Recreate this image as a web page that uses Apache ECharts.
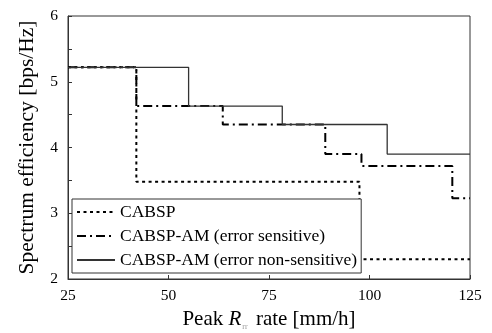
<!DOCTYPE html>
<html>
<head>
<meta charset="utf-8">
<script src="https://cdn.jsdelivr.net/npm/echarts@6/dist/echarts.min.js"></script>
<style>
html, body { margin: 0; padding: 0; background: #fff; }
#main { width: 492px; height: 333px; }
</style>
</head>
<body>
<div id="main"></div>
<script>
// step data
var cabspX = [25, 42, 97.5, 125];
var cabspY = [5.22, 3.48, 2.3, 2.3];
var sensX = [25, 42, 63.5, 89, 98, 120.6, 125];
var sensY = [5.22, 4.63, 4.35, 3.9, 3.72, 3.23, 3.23];
var nonX = [25, 55, 78.3, 104.4, 125];
var nonY = [5.22, 4.63, 4.35, 3.9, 3.9];
var names = ['CABSP', 'CABSP-AM (error sensitive)', 'CABSP-AM (error non-sensitive)'];

function pairs(xs, ys) {
    var out = [];
    for (var i = 0; i < xs.length; i++) {
        out.push([xs[i], ys[i]]);
    }
    return out;
}

var font = 'Liberation Serif';
var chart = echarts.init(document.getElementById('main'));
chart.setOption({
    animation: false,
    textStyle: { fontFamily: font },
    grid: {
        left: 68, right: 22, top: 16, bottom: 54,
        outerBoundsMode: 'none',
        show: true, borderColor: '#333', borderWidth: 1
    },
    legend: {
        orient: 'vertical',
        left: 72, top: 199,
        data: names,
        itemWidth: 38, itemHeight: 14, itemGap: 6,
        padding: [4, 4, 4, 4],
        borderColor: '#333', borderWidth: 1, backgroundColor: '#fff',
        itemStyle: { opacity: 0 },
        textStyle: { fontFamily: font, fontSize: 17.5, color: '#000' }
    },
    xAxis: {
        type: 'value', min: 25, max: 125, interval: 25,
        name: 'Peak {i|R}{s|rr} rate [mm/h]',
        nameLocation: 'middle', nameGap: 24,
        nameTextStyle: {
            fontFamily: font, fontSize: 21, color: '#000',
            rich: {
                i: { fontFamily: font, fontSize: 21, fontStyle: 'italic', color: '#000' },
                s: { fontFamily: font, fontSize: 8, color: '#999', padding: [16, 3, 0, 1] }
            }
        },
        axisLine: { lineStyle: { color: '#333' } },
        axisTick: { inside: true, length: 4, lineStyle: { color: '#333' } },
        axisLabel: { fontFamily: font, fontSize: 15.5, color: '#000', margin: 9 },
        splitLine: { show: false }
    },
    yAxis: {
        type: 'value', min: 2, max: 6, interval: 0.5,
        name: 'Spectrum efficiency [bps/Hz]',
        nameLocation: 'middle', nameGap: 30,
        nameTextStyle: { fontFamily: font, fontSize: 21.5, color: '#000' },
        axisLine: { lineStyle: { color: '#333' } },
        axisTick: { inside: true, length: 4, lineStyle: { color: '#333' } },
        axisLabel: {
            fontFamily: font, fontSize: 15.5, color: '#000', margin: 10,
            formatter: function (v) { return v % 1 === 0 ? String(v) : ''; }
        },
        splitLine: { show: false }
    },
    series: [
        {
            name: names[0], type: 'line', step: 'end', symbol: 'none',
            data: pairs(cabspX, cabspY),
            lineStyle: { color: '#000', width: 2, type: [3, 3.5] },
            itemStyle: { color: '#000' }
        },
        {
            name: names[1], type: 'line', step: 'end', symbol: 'none',
            data: pairs(sensX, sensY),
            lineStyle: { color: '#000', width: 2, type: [9, 4, 2, 4] },
            itemStyle: { color: '#000' }
        },
        {
            name: names[2], type: 'line', step: 'end', symbol: 'none',
            data: pairs(nonX, nonY),
            lineStyle: { color: '#333', width: 1.3 },
            itemStyle: { color: '#333' }
        }
    ]
});
</script>
</body>
</html>
